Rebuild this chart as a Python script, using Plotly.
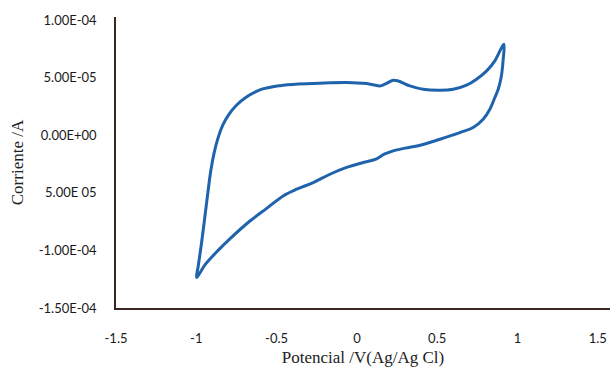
import plotly.graph_objects as go

# Cyclic voltammogram: forward (anodic) sweep from -1 V to the switching potential,
# then the return (cathodic) sweep back to -1 V.
forward_potential = [-0.998, -0.988, -0.967, -0.946, -0.928, -0.910, -0.890, -0.866,
                     -0.836, -0.800, -0.750, -0.690, -0.600, -0.480, -0.366, -0.200,
                     -0.064, 0.060, 0.143, 0.174, 0.226, 0.257, 0.330, 0.413,
                     0.517, 0.600, 0.683, 0.745, 0.808, 0.859, 0.915]
forward_current = [-1.235e-4, -1.135e-4, -9.31e-5, -7.0e-5, -5.0e-5, -3.1e-5, -1.6e-5, -3.0e-6,
                   8.5e-6, 1.75e-5, 2.6e-5, 3.3e-5, 3.95e-5, 4.3e-5, 4.45e-5, 4.53e-5,
                   4.57e-5, 4.48e-5, 4.28e-5, 4.43e-5, 4.77e-5, 4.71e-5, 4.28e-5, 3.99e-5,
                   3.91e-5, 3.99e-5, 4.34e-5, 4.86e-5, 5.58e-5, 6.45e-5, 7.9e-5]

reverse_potential = [0.911, 0.898, 0.880, 0.859, 0.828, 0.786, 0.724, 0.641, 0.517,
                     0.400, 0.300, 0.226, 0.170, 0.123, 0.039, -0.064, -0.168, -0.272,
                     -0.375, -0.459, -0.562, -0.666, -0.791, -0.864, -0.946, -0.998]
reverse_current = [6.6e-5, 5.0e-5, 3.99e-5, 3.27e-5, 2.26e-5, 1.39e-5, 6.7e-6, 2.3e-6, -3.5e-6,
                   -8.5e-6, -1.12e-5, -1.36e-5, -1.65e-5, -2.05e-5, -2.37e-5, -2.80e-5, -3.39e-5,
                   -4.11e-5, -4.69e-5, -5.27e-5, -6.35e-5, -7.45e-5, -9.0e-5, -1.0e-4,
                   -1.125e-4, -1.235e-4]

x_ticks = [-1.5, -1, -0.5, 0, 0.5, 1, 1.5]
x_tick_text = ["-1.5", "-1", "-0.5", "0", "0.5", "1", "1.5"]
y_ticks = [1e-4, 5e-5, 0, -5e-5, -1e-4, -1.5e-4]
y_tick_text = ["1.00E-04", "5.00E-05", "0.00E+00", "5.00E 05", "-1.00E-04", "-1.50E-04"]

potential = forward_potential + reverse_potential
current = forward_current + reverse_current

fig = go.Figure(go.Scatter(
    x=potential, y=current, mode="lines",
    line=dict(color="#1f63ad", width=3, shape="spline", smoothing=1.0),
    showlegend=False,
))

tick_font = dict(family="Lato, Calibri, sans-serif", size=13, color="#1a1a1a")
title_font = dict(family="Liberation Serif, Times New Roman, serif", size=17, color="#222222")

fig.update_layout(
    width=611, height=371,
    margin=dict(l=116, r=1, t=17, b=63),
    paper_bgcolor="white", plot_bgcolor="white",
    xaxis=dict(
        range=[-1.5, 1.576], tickvals=x_ticks, ticktext=x_tick_text,
        showgrid=False, zeroline=False, showline=True, linecolor="#3b2620", linewidth=1.5,
        ticks="", tickfont=tick_font, ticklabelstandoff=18,
        title=dict(text="Potencial /V(Ag/Ag Cl)", font=title_font, standoff=6),
    ),
    yaxis=dict(
        range=[-1.5e-4, 1.026e-4], tickvals=y_ticks, ticktext=y_tick_text,
        showgrid=False, zeroline=False, showline=True, linecolor="#3b2620", linewidth=1.5,
        ticks="", tickfont=tick_font, ticklabelstandoff=15,
        title=dict(text="Corriente /A", font=title_font, standoff=11),
    ),
)

fig.write_html("out.html")
